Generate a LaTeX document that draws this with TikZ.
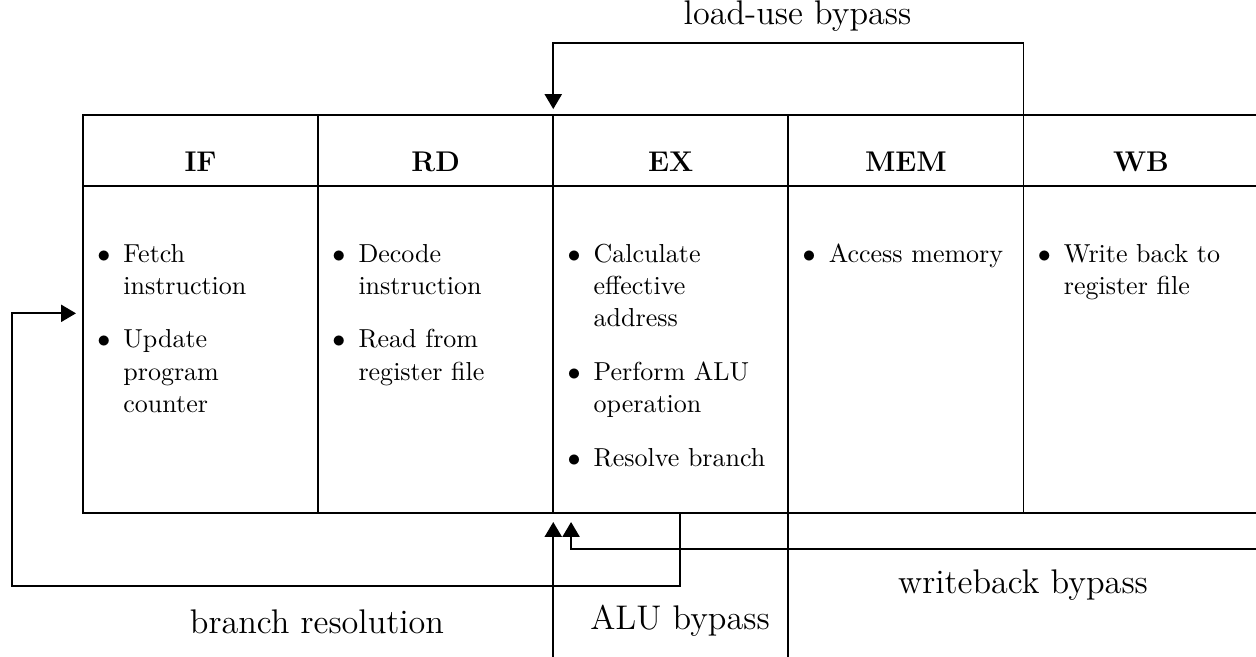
\documentclass[tikz,border=0pt]{standalone}
\usepackage{enumitem}
\usetikzlibrary{arrows.meta}
\setlist[itemize]{label=$\bullet$,leftmargin=17pt,labelsep=5.5pt,topsep=0pt,partopsep=0pt,itemsep=4.5pt,parsep=4.5pt}
\begin{document}
\begin{tikzpicture}[x=0.42105pt,y=-0.42105pt,line width=0.8pt,
  hcell/.style={draw,anchor=north west,inner sep=0pt,outer sep=0pt,minimum width=99pt,minimum height=29.9pt},
  bcell/.style={draw,anchor=north west,inner sep=0pt,outer sep=0pt,minimum width=99pt,minimum height=137.8pt},
  htxt/.style={font=\fontsize{12}{14.5}\selectfont\bfseries,inner sep=0pt,anchor=base,yshift=-8.7pt},
  btxt/.style={font=\fontsize{10.95}{13.6}\selectfont,inner sep=0pt,outer sep=0pt,anchor=north west,text width=93.5pt,align=left,yshift=-18.4pt},
  lbl/.style={font=\fontsize{14.4}{18}\selectfont,inner sep=0pt,anchor=base},
  arr/.style={-{Triangle[length=6.3pt,width=7.2pt]}}]
\useasboundingbox (0,0) rectangle (1256,656);
\clip (0,0) rectangle (1256,656);
% header cells
\node[hcell] (IFh) at (83,115) {};
\node[hcell] (RDh) at (IFh.north east) {};
\node[hcell] (EXh) at (RDh.north east) {};
\node[hcell] (MEMh) at (EXh.north east) {};
\node[hcell] (WBh) at (MEMh.north east) {};
% body cells
\node[bcell] (IFb) at (IFh.south west) {};
\node[bcell] (RDb) at (RDh.south west) {};
\node[bcell] (EXb) at (EXh.south west) {};
\node[bcell] (MEMb) at (MEMh.south west) {};
\node[bcell] (WBb) at (WBh.south west) {};
% header texts
\node[htxt] (IFt) at (IFh.center) {IF};
\node[htxt] (RDt) at (RDh.center) {RD};
\node[htxt] (EXt) at (EXh.center) {EX};
\node[htxt] (MEMt) at (MEMh.center) {MEM};
\node[htxt] (WBt) at (WBh.center) {WB};
% body texts
\node[btxt] (IFl) at (IFb.north west) {\begin{itemize}
  \item Fetch instruction
  \item Update program counter
\end{itemize}};
\node[btxt] (RDl) at (RDb.north west) {\begin{itemize}
  \item Decode instruction
  \item Read from register file
\end{itemize}};
\node[btxt] (EXl) at (EXb.north west) {\begin{itemize}
  \item Calculate effective address
  \item Perform ALU operation
  \item Resolve branch
\end{itemize}};
\node[btxt] (MEMl) at (MEMb.north west) {\begin{itemize}
  \item Access memory
\end{itemize}};
\node[btxt] (WBl) at (WBb.north west) {\begin{itemize}
  \item Write back to register file
\end{itemize}};
% connector end points
\coordinate (luIn) at ([yshift=2.5pt]EXh.north west);
\coordinate (brOut) at ([xshift=53.4pt]EXb.south west);
\coordinate (brIn) at ([xshift=-2.95pt,yshift=-53.6pt]IFb.north west);
\coordinate (aluIn) at ([yshift=-3.66pt]EXb.south west);
\coordinate (aluSrc) at ([yshift=-70pt]aluIn);
\coordinate (wbIn) at ([xshift=7.5pt]aluIn);
\coordinate (wbSrc) at (1300,549.3);
\coordinate (memDown) at ([yshift=-70pt]MEMb.south west);
% connectors
\draw[arr] (MEMh.north east) -- ++(0,-72) -| (luIn);
\draw[arr] (brOut) |- (12,585.7) |- (brIn);
\draw[arr] (aluSrc) -- (aluIn);
\draw[arr] (wbSrc) -| (wbIn);
\draw (MEMb.south west) -- (memDown);
% labels
\node[lbl] (luL) at (797.5,24) {load-use bypass};
\node[lbl] (brL) at (317,633) {branch resolution};
\node[lbl] (aluL) at (680,629) {ALU bypass};
\node[lbl] (wbL) at (1023,593.3) {writeback bypass};
\end{tikzpicture}
\end{document}
